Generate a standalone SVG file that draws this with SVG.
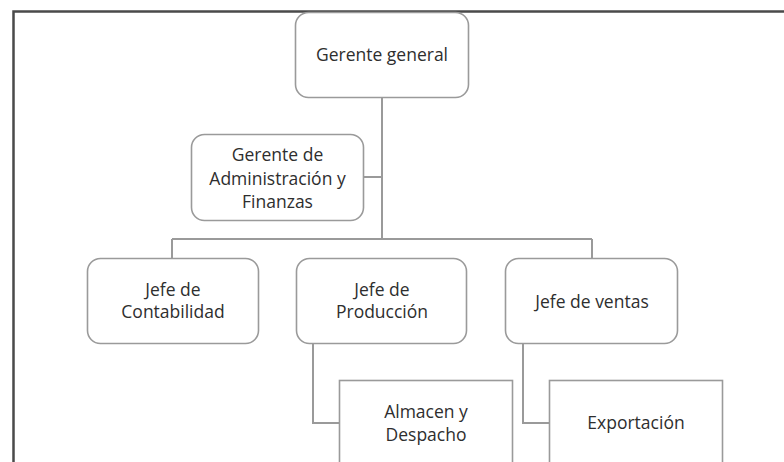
<svg xmlns="http://www.w3.org/2000/svg" width="784" height="462" viewBox="0 0 784 462">
<style>
.box{fill:#fff;stroke:#9a9a9a;stroke-width:1.6}
.lbl{font-family:"Open Sans","Liberation Sans",sans-serif;font-size:17.5px;fill:#2e2e2e;text-anchor:middle}
.conn{fill:none;stroke:#9a9a9a;stroke-width:2}
.frame{fill:none;stroke:#4a4a4a;stroke-width:2.5}
</style>
<rect width="784" height="462" fill="#fff"/>
<path class="frame" d="M13.5,462 V11.5 H784"/>
<g id="connectors">
<path class="conn" d="M382,97 V239"/>
<path class="conn" d="M364,177 H382"/>
<path class="conn" d="M172,239 H592"/>
<path class="conn" d="M172,239 V258"/>
<path class="conn" d="M592,239 V258"/>
<path class="conn" d="M313,343 V423 H339"/>
<path class="conn" d="M523,343 V423 H549"/>
</g>
<g id="gerente-general">
<rect class="box" x="295.5" y="12.5" width="173" height="85" rx="13"/>
<text class="lbl" x="382" y="61">Gerente general</text>
</g>
<g id="gerente-admin">
<rect class="box" x="191.5" y="134.5" width="172" height="86" rx="13"/>
<text class="lbl" x="277.5" y="161">Gerente de</text>
<text class="lbl" x="277.5" y="185">Administración y</text>
<text class="lbl" x="277.5" y="208">Finanzas</text>
</g>
<g id="jefe-contabilidad">
<rect class="box" x="87.5" y="258.5" width="171" height="85" rx="13"/>
<text class="lbl" x="173" y="296">Jefe de</text>
<text class="lbl" x="173" y="318">Contabilidad</text>
</g>
<g id="jefe-produccion">
<rect class="box" x="296.5" y="258.5" width="170" height="85" rx="13"/>
<text class="lbl" x="382" y="296">Jefe de</text>
<text class="lbl" x="382" y="318">Producción</text>
</g>
<g id="jefe-ventas">
<rect class="box" x="505.5" y="258.5" width="172" height="85" rx="13"/>
<text class="lbl" x="592" y="308">Jefe de ventas</text>
</g>
<g id="almacen-despacho">
<rect class="box" x="339.5" y="380.5" width="173" height="100"/>
<text class="lbl" x="426" y="418">Almacen y</text>
<text class="lbl" x="426" y="441">Despacho</text>
</g>
<g id="exportacion">
<rect class="box" x="549.5" y="380.5" width="173" height="100"/>
<text class="lbl" x="636" y="429">Exportación</text>
</g>
</svg>
